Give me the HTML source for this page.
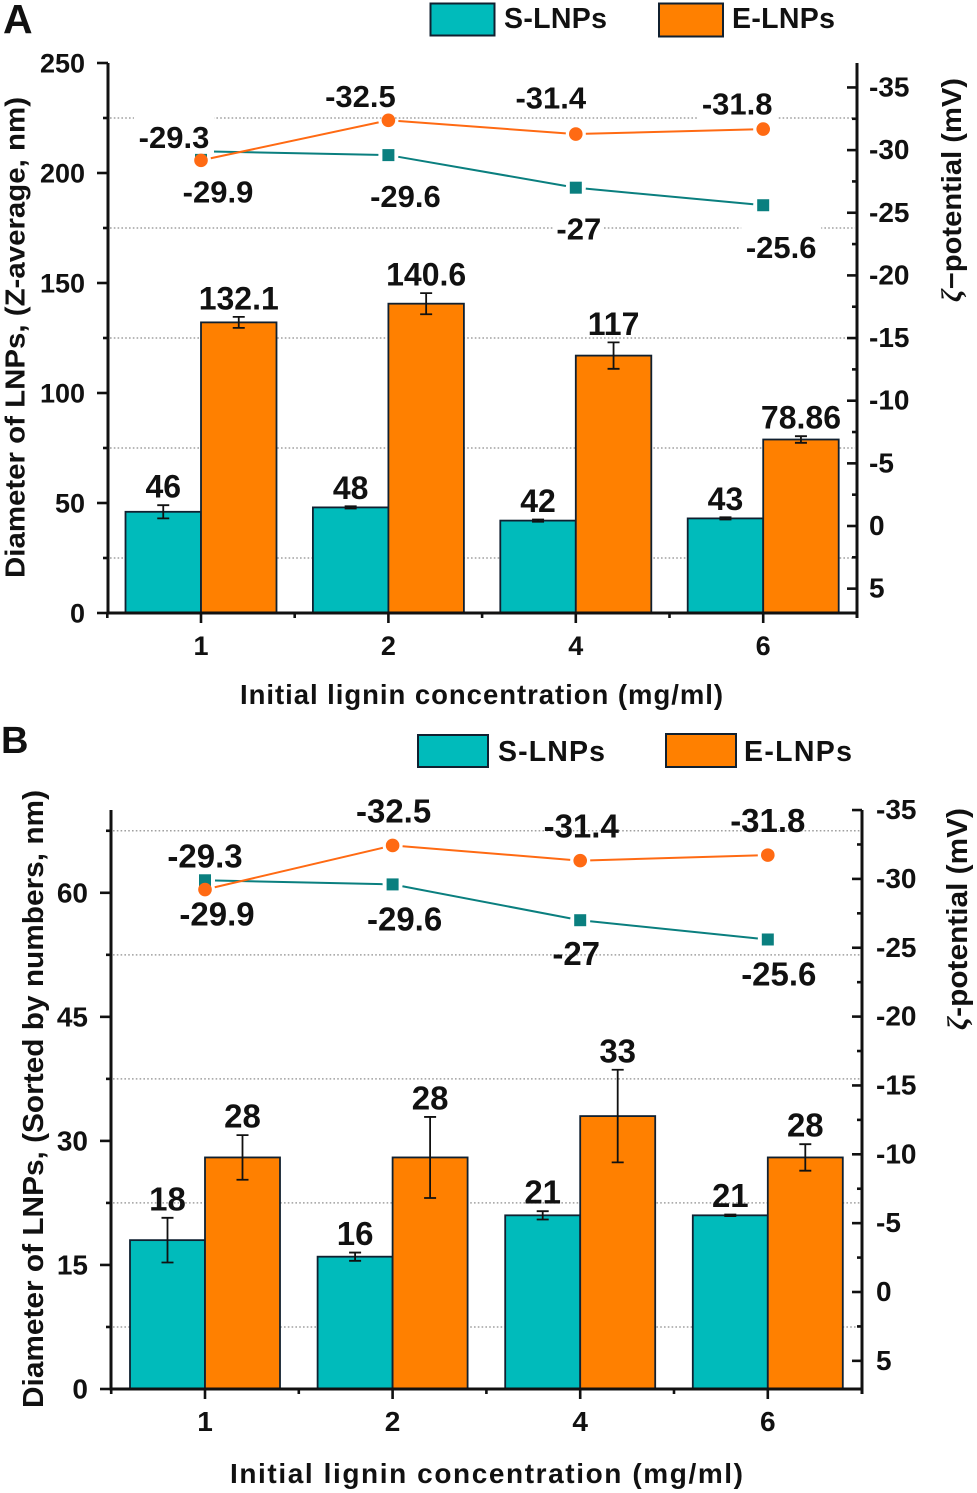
<!DOCTYPE html>
<html lang="en">
<head>
<meta charset="utf-8">
<title>LNP diameter and zeta potential</title>
<style>
html,body{margin:0;padding:0;background:#fff}
svg{display:block;font-family:"Liberation Sans",Arial,sans-serif;font-weight:bold;fill:#111}
</style>
</head>
<body>
<svg id="figure" width="977" height="1493" viewBox="0 0 977 1493" xmlns="http://www.w3.org/2000/svg">
  <rect x="0" y="0" width="977" height="1493" fill="#fff"/>

  <g id="panel-a"></g>
  <g id="panel-b"></g>

  <text x="3" y="33" font-size="41">A</text>
  <g>
    <rect x="430.5" y="3.5" width="64" height="32" fill="#00BBBB" stroke="#102030" stroke-width="2"/>
    <text x="504" y="28" font-size="28.5" textLength="103">S-LNPs</text>
    <rect x="659" y="3.5" width="64" height="33" fill="#FF8000" stroke="#102030" stroke-width="2"/>
    <text x="732" y="28" font-size="28.5" textLength="103">E-LNPs</text>
  </g>
  <text transform="translate(24.5,578) rotate(-90)" font-size="28" textLength="481" lengthAdjust="spacingAndGlyphs">Diameter of LNPs, (Z-average, nm)</text>
  <text x="240" y="704" font-size="27.5" textLength="483">Initial lignin concentration (mg/ml)</text>
  <text transform="translate(961,302) rotate(-90)" font-size="28" textLength="224" lengthAdjust="spacingAndGlyphs"><tspan font-style="italic" font-family="Liberation Serif">ζ</tspan>−potential (mV)</text>

  <text x="1" y="753" font-size="38">B</text>
  <g>
    <rect x="418" y="735" width="70" height="32" fill="#00BBBB" stroke="#102030" stroke-width="2"/>
    <text x="498" y="761" font-size="28.5" textLength="107">S-LNPs</text>
    <rect x="666" y="734" width="70" height="33" fill="#FF8000" stroke="#102030" stroke-width="2"/>
    <text x="744" y="761" font-size="28.5" textLength="108">E-LNPs</text>
  </g>
  <text transform="translate(43,1408) rotate(-90)" font-size="29" textLength="618" lengthAdjust="spacingAndGlyphs">Diameter of LNPs, (Sorted by numbers, nm)</text>
  <text x="230" y="1483" font-size="28" textLength="513">Initial lignin concentration (mg/ml)</text>
  <text transform="translate(967,1030) rotate(-90)" font-size="28.5" textLength="222" lengthAdjust="spacingAndGlyphs"><tspan font-style="italic" font-family="Liberation Serif">ζ</tspan>-potential (mV)</text>
</svg>

<script>
// Shared categories
var categories = ['1', '2', '4', '6'];

// Panel A data
var sizeSA = [46, 48, 42, 43];
var sizeEA = [132.1, 140.6, 117, 78.86];
var errSA = [3, 0.5, 0.5, 0.5];
var errEA = [2.5, 4.8, 6, 1.5];
var labelSA = ['46', '48', '42', '43'];
var labelEA = ['132.1', '140.6', '117', '78.86'];
var zetaSA = [-29.9, -29.6, -27, -25.6];
var zetaEA = [-29.3, -32.5, -31.4, -31.8];
var leftTicksA = [0, 50, 100, 150, 200, 250];
var leftMinorA = [25, 75, 125, 175, 225];

// Panel B data
var sizeSB = [18, 16, 21, 21];
var sizeEB = [28, 28, 33, 28];
var errSB = [2.7, 0.5, 0.5, 0.1];
var errEB = [2.7, 4.9, 5.6, 1.6];
var labelSB = ['18', '16', '21', '21'];
var labelEB = ['28', '28', '33', '28'];
var zetaSB = [-29.9, -29.6, -27, -25.6];
var zetaEB = [-29.3, -32.5, -31.4, -31.8];
var leftTicksB = [0, 15, 30, 45, 60];
var leftMinorB = [7.5, 22.5, 37.5, 52.5, 67.5];

// Right axis ticks (both panels)
var rightTicks = [5, 0, -5, -10, -15, -20, -25, -30, -35];
var rightMinor = [2.5, -2.5, -7.5, -12.5, -17.5, -22.5, -27.5, -32.5];

var SVGNS = 'http://www.w3.org/2000/svg';
var INK = '#111';
var BAR_EDGE = '#102030';
var TEAL = '#00BBBB';
var ORANGE = '#FF8000';
var TEAL_LINE = '#0A7F7F';
var ORANGE_LINE = '#FF6A13';

function mk(tag, attrs, parent) {
  var el = document.createElementNS(SVGNS, tag);
  for (var k in attrs) { el.setAttribute(k, attrs[k]); }
  parent.appendChild(el);
  return el;
}

function drawPanel(p) {
  var root = document.getElementById(p.id);
  function yL(v) { return p.y0 - v * p.leftScale; }
  function yR(v) { return p.rZero + v * p.rightScale; }
  function yE(v) { return yR(v) + p.eShift; }
  function xC(i) { return p.cat0 + i * p.catStep; }

  // gridlines at the left-axis minor ticks
  p.leftMinor.forEach(function (v) {
    var g = mk('line', {x1: p.xL + 2, x2: p.xR - 2, y1: yL(v), y2: yL(v), stroke: '#a0a0a0', 'stroke-width': 1.5, 'stroke-dasharray': '1.6 2.2'}, root);
    
    
  });

  // zeta potential line segments stop short of each marker
  function series(vals, yFn, color, name) {
    for (var i = 0; i + 1 < vals.length; i++) {
      var x1 = xC(i), y1 = yFn(vals[i]), x2 = xC(i + 1), y2 = yFn(vals[i + 1]);
      var dx = x2 - x1, dy = y2 - y1, len = Math.sqrt(dx * dx + dy * dy), gap = 10;
      var seg = mk('line', {x1: x1 + dx / len * gap, y1: y1 + dy / len * gap, x2: x2 - dx / len * gap, y2: y2 - dy / len * gap, stroke: color, 'stroke-width': 2}, root);
      
      
    }
  }

  // teal series goes first: its first marker is hidden by a label background in panel A
  series(p.zetaS, yR, TEAL_LINE, 'zeta-s-lnps');
  p.zetaS.forEach(function (v, i) {
    var m = mk('rect', {x: xC(i) - 6, y: yR(v) - 6, width: 12, height: 12, fill: TEAL_LINE}, root);
    
    
  });

  // knockouts behind the zeta labels that interrupt gridlines
  if (p.knockout) {
    var addKnock = function (vals, offs, labelWidth) {
      vals.forEach(function (v, i) {
        var cx = xC(i) + offs[i][0];
        var base = yR(v) + offs[i][1];
        var width = (String(v).length >= 5 ? labelWidth : labelWidth * 0.62);
        var k = mk('rect', {x: cx - width / 2, y: base - 32, width: width, height: 38, fill: '#fff'}, root);
        
        
      });
    };
    addKnock(p.zetaE, p.offE, 80);
    addKnock(p.zetaS, p.offS, 80);
  }

  // bars with error bars and value labels
  categories.forEach(function (c, i) {
    var x = xC(i);
    var pairs = [
      {v: p.sizeS[i], e: p.errS[i], lab: p.labelS[i], fill: TEAL, bx: x - p.barW, name: 's-lnps'},
      {v: p.sizeE[i], e: p.errE[i], lab: p.labelE[i], fill: ORANGE, bx: x, name: 'e-lnps'}
    ];
    pairs.forEach(function (b) {
      var top = yL(b.v);
      var bar = mk('rect', {x: b.bx, y: top, width: p.barW, height: p.y0 - top, fill: b.fill, stroke: BAR_EDGE, 'stroke-width': 1.8}, root);
      
      

      var mid = b.bx + p.barW / 2;
      var hi = yL(b.v + b.e);
      var lo = yL(b.v - b.e);
      var err = mk('path', {d: 'M' + (mid - 6) + ' ' + hi + 'H' + (mid + 6) + 'M' + mid + ' ' + hi + 'V' + lo + 'M' + (mid - 6) + ' ' + lo + 'H' + (mid + 6), fill: 'none', stroke: '#111', 'stroke-width': 1.8}, root);
      
      

      var t = mk('text', {x: mid, y: hi - 7.5, 'font-size': p.valueFont, 'text-anchor': 'middle'}, root);
      t.textContent = b.lab;
      
      
    });
  });

  series(p.zetaE, yE, ORANGE_LINE, 'zeta-e-lnps');

  p.zetaS.forEach(function (v, i) {
    var t = mk('text', {x: xC(i) + p.offS[i][0], y: yR(v) + p.offS[i][1], 'font-size': p.zetaFont, 'text-anchor': 'middle'}, root);
    t.textContent = String(v);
    
    
  });
  p.zetaE.forEach(function (v, i) {
    var m = mk('circle', {cx: xC(i), cy: yE(v), r: 6.8, fill: ORANGE_LINE}, root);
    
    
    var t = mk('text', {x: xC(i) + p.offE[i][0], y: yR(v) + p.offE[i][1], 'font-size': p.zetaFont, 'text-anchor': 'middle'}, root);
    t.textContent = String(v);
    
    
  });

  // axes
  var axes = mk('path', {d: 'M' + p.xL + ' ' + p.yTop + 'V' + (p.y0 + 1.5) + 'M' + (p.xL - 1.5) + ' ' + p.y0 + 'H' + (p.xR + 1.5) + 'M' + p.xR + ' ' + p.yTop + 'V' + (p.y0 + 5), fill: 'none', stroke: INK, 'stroke-width': 3}, root);
  
  

  // left axis ticks
  p.leftTicks.forEach(function (v) {
    var tick = mk('line', {x1: p.xL - 11, x2: p.xL, y1: yL(v), y2: yL(v), stroke: INK, 'stroke-width': 2.6}, root);
    
    
    var t = mk('text', {x: p.leftLabelX, y: yL(v) + 9.5, 'font-size': p.tickFont, 'text-anchor': 'end'}, root);
    t.textContent = String(v);
    
    
  });
  p.leftMinor.forEach(function (v) {
    var tick = mk('line', {x1: p.xL - 5, x2: p.xL, y1: yL(v), y2: yL(v), stroke: INK, 'stroke-width': 2.6}, root);
    
    
  });

  // right axis ticks (drawn inward)
  rightTicks.forEach(function (v) {
    var tick = mk('line', {x1: p.xR - 10, x2: p.xR, y1: yR(v), y2: yR(v), stroke: INK, 'stroke-width': 2.6}, root);
    
    
    var t = mk('text', {x: p.rightLabelX, y: yR(v) + 9, 'font-size': p.rightFont}, root);
    t.textContent = String(v);
    
    
  });
  rightMinor.forEach(function (v) {
    var tick = mk('line', {x1: p.xR - 5, x2: p.xR, y1: yR(v), y2: yR(v), stroke: INK, 'stroke-width': 2.6}, root);
    
    
  });

  // x axis ticks
  categories.forEach(function (c, i) {
    var tick = mk('line', {x1: xC(i), x2: xC(i), y1: p.y0, y2: p.y0 + 10, stroke: INK, 'stroke-width': 2.6}, root);
    
    
    var t = mk('text', {x: xC(i), y: p.xLabelY, 'font-size': p.tickFont, 'text-anchor': 'middle'}, root);
    t.textContent = c;
    
    
  });
  [-0.5, 0.5, 1.5, 2.5].forEach(function (f) {
    var xm = xC(0) + f * p.catStep;
    var tick = mk('line', {x1: xm, x2: xm, y1: p.y0, y2: p.y0 + 5, stroke: INK, 'stroke-width': 2.6}, root);
    
    
  });
}

drawPanel({
  id: 'panel-a',
  sizeS: sizeSA, sizeE: sizeEA, errS: errSA, errE: errEA, labelS: labelSA, labelE: labelEA,
  zetaS: zetaSA, zetaE: zetaEA, leftTicks: leftTicksA, leftMinor: leftMinorA,
  xL: 108, xR: 857, yTop: 63, y0: 613, leftScale: 2.2,
  rZero: 526, rightScale: 12.53, eShift: 1.5,
  cat0: 201, catStep: 187.4, barW: 75.5,
  tickFont: 27, rightFont: 28, valueFont: 32, zetaFont: 31,
  leftLabelX: 85, rightLabelX: 869, xLabelY: 655,
  knockout: true,
  offE: [[-27, -11], [-28, -12], [-25, -24], [-26, -13]],
  offS: [[17, 51], [17, 52], [3, 52], [18, 53]]
});

drawPanel({
  id: 'panel-b',
  sizeS: sizeSB, sizeE: sizeEB, errS: errSB, errE: errEB, labelS: labelSB, labelE: labelEB,
  zetaS: zetaSB, zetaE: zetaEB, leftTicks: leftTicksB, leftMinor: leftMinorB,
  xL: 111, xR: 862, yTop: 810, y0: 1389, leftScale: 8.27,
  rZero: 1292, rightScale: 13.77, eShift: 1,
  cat0: 205, catStep: 187.6, barW: 75,
  tickFont: 28, rightFont: 28, valueFont: 33, zetaFont: 33,
  leftLabelX: 88, rightLabelX: 876, xLabelY: 1431,
  knockout: false,
  offE: [[0, -21], [1, -22], [1, -22], [0, -22]],
  offS: [[12, 45], [12, 46], [-4, 45], [11, 46]]
});
</script>
</body>
</html>
